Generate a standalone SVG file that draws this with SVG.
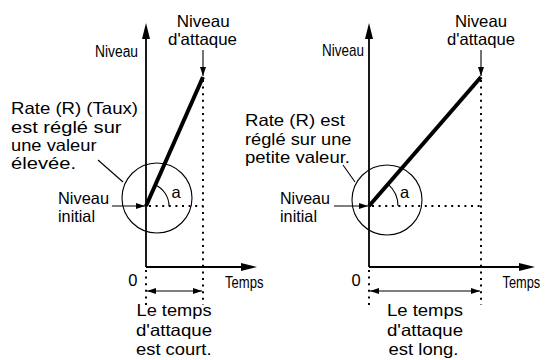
<svg xmlns="http://www.w3.org/2000/svg" width="545" height="360" viewBox="0 0 545 360">
<style>
.t{font-family:"Liberation Sans",Arial,Helvetica,sans-serif;font-size:16.5px;fill:#000}
.c{font-family:"Liberation Sans",Arial,Helvetica,sans-serif;font-size:16px;fill:#000}
.ax{stroke:#000;stroke-width:1.8;fill:none}
.thin{stroke:#000;stroke-width:1.1;fill:none}
.dot{stroke:#000;stroke-width:2;stroke-dasharray:2 4.6;fill:none}
.ramp{stroke:#000;stroke-width:4;fill:none}
</style>
<defs>
<marker id="big" markerUnits="userSpaceOnUse" viewBox="0 0 16 8" refX="0" refY="4" markerWidth="16" markerHeight="8" orient="auto"><path d="M0,0 L16,4 L0,8 z" fill="#000"/></marker>
<marker id="ah" markerUnits="userSpaceOnUse" viewBox="0 0 9 6" refX="9" refY="3" markerWidth="9" markerHeight="6" orient="auto-start-reverse"><path d="M0,0 L9,3 L0,6 z" fill="#000"/></marker>
</defs>

<g id="chart-left">
  <g id="left-axes">
    <path class="ax" d="M146,267 V39" marker-end="url(#big)"/>
    <path class="ax" d="M146,267 H241" marker-end="url(#big)"/>
    <text class="c" transform="translate(95,56.5) scale(0.864,1)">Niveau</text>
    <text class="c" transform="translate(225,288) scale(0.818,1)">Temps</text>
    <text class="t" x="128.3" y="286">0</text>
  </g>
  <g id="left-guides">
    <path class="dot" d="M203,80 V305"/>
    <path class="dot" d="M146,270 V305"/>
    <path class="dot" d="M149,206 H203"/>
    <circle class="thin" cx="157" cy="198" r="35"/>
    <path class="thin" d="M155.3,185 A23,23 0 0 1 169,206"/>
    <text class="t" x="171.5" y="198.3">a</text>
  </g>
  <g id="left-ramp">
    <path class="ramp" d="M146,206 L203,77"/>
  </g>
  <g id="left-attack-label">
    <text class="t" x="176.7" y="26.5" textLength="53" lengthAdjust="spacingAndGlyphs">Niveau</text>
    <text class="t" x="168" y="45" textLength="69" lengthAdjust="spacingAndGlyphs">d'attaque</text>
  </g>
  <g id="left-rate-label">
    <text class="t" x="11" y="114" textLength="127" lengthAdjust="spacingAndGlyphs">Rate (R) (Taux)</text>
    <text class="t" x="11" y="132.5" textLength="110.5" lengthAdjust="spacingAndGlyphs">est réglé sur</text>
    <text class="t" x="11" y="151" textLength="85.5" lengthAdjust="spacingAndGlyphs">une valeur</text>
    <text class="t" x="11" y="169.3" textLength="65" lengthAdjust="spacingAndGlyphs">élevée.</text>
  </g>
  <g id="left-initial-label">
    <text class="t" x="58" y="203.8" textLength="51" lengthAdjust="spacingAndGlyphs">Niveau</text>
    <text class="t" x="58" y="221.8" textLength="37" lengthAdjust="spacingAndGlyphs">initial</text>
  </g>
  <g id="left-time-label">
    <text class="t" x="136.5" y="316" textLength="75" lengthAdjust="spacingAndGlyphs">Le temps</text>
    <text class="t" x="136" y="335.5" textLength="76" lengthAdjust="spacingAndGlyphs">d'attaque</text>
    <text class="t" x="136" y="355" textLength="75.5" lengthAdjust="spacingAndGlyphs">est court.</text>
  </g>
</g>

<g id="chart-right">
  <g id="right-axes">
    <path class="ax" d="M369,267 V39" marker-end="url(#big)"/>
    <path class="ax" d="M369,267 H519" marker-end="url(#big)"/>
    <text class="c" transform="translate(322,56) scale(0.843,1)">Niveau</text>
    <text class="c" transform="translate(502.5,288) scale(0.8,1)">Temps</text>
    <text class="t" x="351.5" y="286">0</text>
  </g>
  <g id="right-guides">
    <path class="dot" d="M481,80 V305"/>
    <path class="dot" d="M369,270 V305"/>
    <path class="dot" d="M372,206 H481"/>
    <circle class="thin" cx="387" cy="200" r="35"/>
    <path class="thin" d="M388,184.1 A29,29 0 0 1 398,206"/>
    <text class="t" x="400" y="198.3">a</text>
  </g>
  <g id="right-ramp">
    <path class="ramp" d="M369,206 L481,77"/>
  </g>
  <g id="right-attack-label">
    <text class="t" x="455" y="26.5" textLength="52" lengthAdjust="spacingAndGlyphs">Niveau</text>
    <text class="t" x="447" y="45" textLength="68" lengthAdjust="spacingAndGlyphs">d'attaque</text>
  </g>
  <g id="right-rate-label">
    <text class="t" x="245" y="126.3" textLength="100" lengthAdjust="spacingAndGlyphs">Rate (R) est</text>
    <text class="t" x="245" y="144.6" textLength="106.5" lengthAdjust="spacingAndGlyphs">réglé sur une</text>
    <text class="t" x="245" y="163" textLength="105" lengthAdjust="spacingAndGlyphs">petite valeur.</text>
  </g>
  <g id="right-initial-label">
    <text class="t" x="280" y="203.5" textLength="50" lengthAdjust="spacingAndGlyphs">Niveau</text>
    <text class="t" x="280" y="221.5" textLength="37" lengthAdjust="spacingAndGlyphs">initial</text>
  </g>
  <g id="right-time-label">
    <text class="t" x="387" y="315.5" textLength="76" lengthAdjust="spacingAndGlyphs">Le temps</text>
    <text class="t" x="387" y="335.5" textLength="76" lengthAdjust="spacingAndGlyphs">d'attaque</text>
    <text class="t" x="388.5" y="355" textLength="70" lengthAdjust="spacingAndGlyphs">est long.</text>
  </g>
</g>

<g id="connectors">
  <path class="thin" d="M203,50 V76" marker-end="url(#ah)"/>
  <path class="thin" d="M481,50 V76" marker-end="url(#ah)"/>
  <path class="thin" d="M112,206 H145" marker-end="url(#ah)"/>
  <path class="thin" d="M334,206 H368" marker-end="url(#ah)"/>
  <path class="thin" d="M147,291 H202" marker-start="url(#ah)" marker-end="url(#ah)"/>
  <path class="thin" d="M370,291 H480" marker-start="url(#ah)" marker-end="url(#ah)"/>
  <path class="thin" d="M98,160 L123,182"/>
  <path class="thin" d="M343,165 L355,182"/>
</g>
</svg>
